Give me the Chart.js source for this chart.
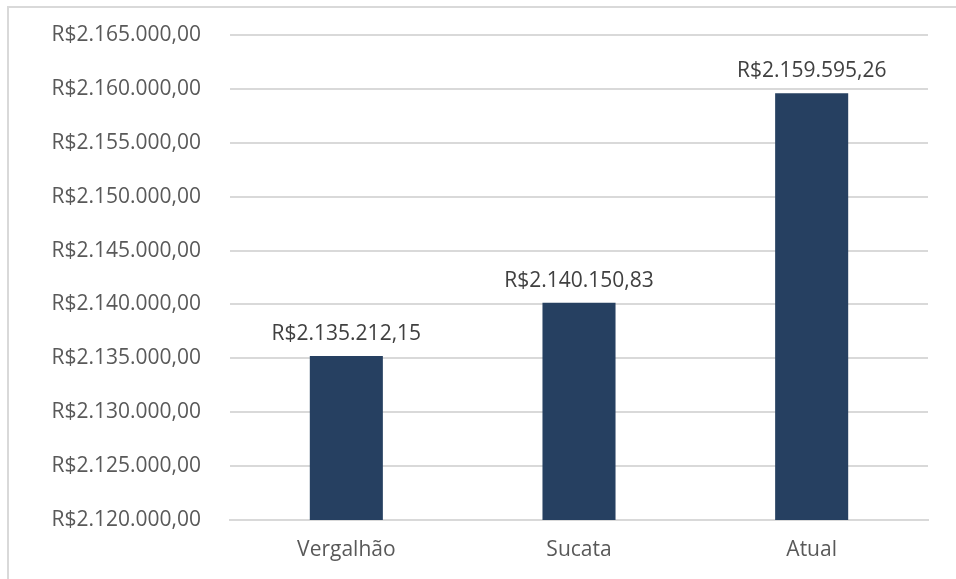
<!DOCTYPE html>
<html>
<head>
<meta charset="utf-8">
<script src="https://cdn.jsdelivr.net/npm/chart.js@4/dist/chart.umd.min.js"></script>
<style>
html, body { margin: 0; padding: 0; background: #fff; overflow: hidden; }
#frame { position: absolute; left: 7px; top: 6px; width: 960px; height: 590px; border-left: 2px solid #d9d9d9; border-top: 2px solid #d9d9d9; }
#wrap { position: absolute; left: 0; top: 0; width: 956px; height: 579px; }
</style>
</head>
<body>
<div id="frame"></div>
<div id="wrap"><canvas id="grafico"></canvas></div>
<script>
// dados
var categorias = ["Vergalhão", "Sucata", "Atual"];
var valores = [2135212.15, 2140150.83, 2159595.26];
var eixoMin = 2120000;
var eixoMax = 2165000;
var passo = 5000;

function moeda(v) {
	var partes = v.toFixed(2).split(".");
	var inteiro = partes[0].replace(/\B(?=(\d{3})+(?!\d))/g, ".");
	return "R$" + inteiro + "," + partes[1];
}

var fonte = "'Open Sans', sans-serif";

/* rotulos em cima das barras */
var rotulos = {
	id: "rotulos",
	afterDatasetsDraw: function(chart){
		var ctx = chart.ctx;
		var meta = chart.getDatasetMeta(0);
		ctx.save();
		ctx.font = "21px " + fonte;
		ctx.fillStyle = "#404040";
		ctx.textAlign = "center";
		ctx.textBaseline = "alphabetic";
		meta.data.forEach(function(bar, i){
			ctx.fillText(moeda(valores[i]), bar.x, bar.y - 16);
		});
		ctx.restore();
	}
};

var ctx = document.getElementById("grafico").getContext("2d");
var myChart = new Chart(ctx, {
	type: "bar",
	data: {
		labels: categorias,
		datasets: [{
			data: valores,
			backgroundColor: "#264061",
			barPercentage: 1,
			categoryPercentage: 0.314
		}]
	},
	options: {
		responsive: true,
		maintainAspectRatio: false,
		animation: false,
		layout: { padding: { top: 35, right: 28, left: 0, bottom: 0 } },
		plugins: { legend: { display: false }, tooltip: { enabled: false } },
		scales: {
			x: {
				grid: { display: false, drawTicks: false },
				border: { color: "#d9d9d9", width: 2 },
				ticks: { color: "#595959", font: { family: fonte, size: 21 }, padding: 17 },
				afterFit: function(s){ s.height = 59; }
			},
			y: {
				min: eixoMin,
				max: eixoMax,
				grid: { color: "#d9d9d9", lineWidth: 2, drawTicks: false },
				border: { display: false },
				ticks: {
					stepSize: passo,
					color: "#595959",
					font: { family: fonte, size: 21 },
					padding: 29,
					callback: function(v){ return moeda(v); }
				},
				afterFit: function(s){ s.width = 230; s.paddingTop = 0; s.paddingBottom = 0; }
			}
		}
	},
	plugins: [rotulos]
});
</script>
</body>
</html>
